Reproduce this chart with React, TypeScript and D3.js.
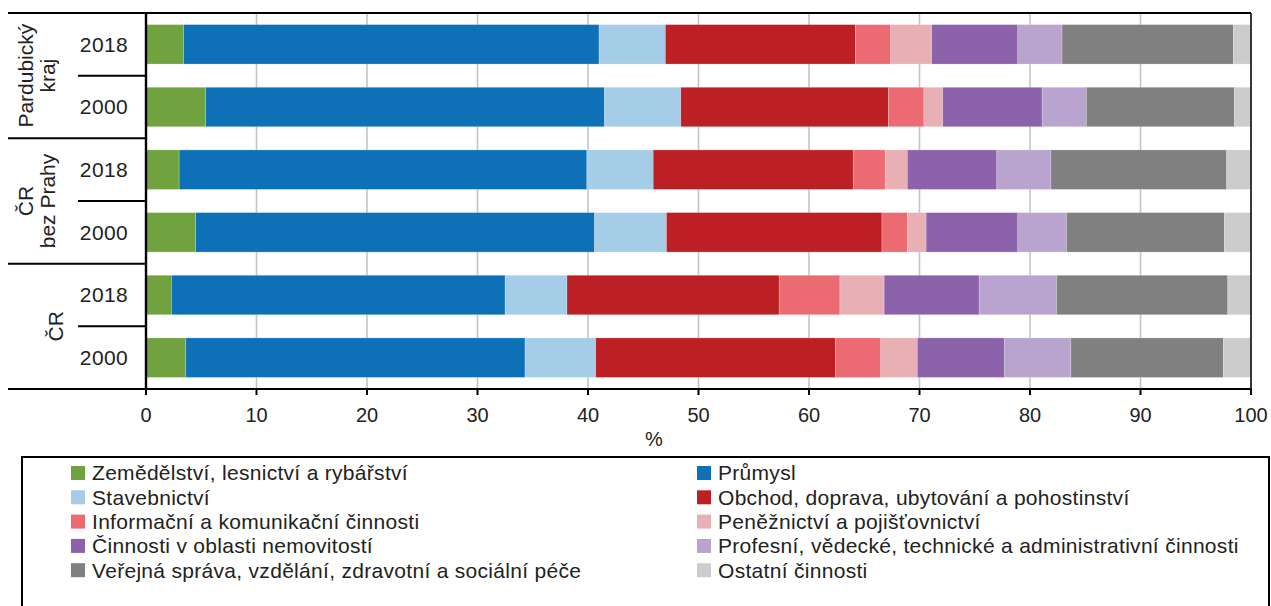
import React from "react";
import * as d3 from "d3";

const rows = ["Pard2018", "Pard2000", "CRbP2018", "CRbP2000", "CR2018", "CR2000"];
const years = ["2018", "2000", "2018", "2000", "2018", "2000"];
const groups = [
  { lines: ["Pardubický", "kraj"], rows: ["Pard2018", "Pard2000"] },
  { lines: ["ČR", "bez Prahy"], rows: ["CRbP2018", "CRbP2000"] },
  { lines: ["ČR"], rows: ["CR2018", "CR2000"] },
];

const agri = [3.4, 5.4, 3.0, 4.5, 2.3, 3.6];
const industry = [37.6, 36.1, 36.9, 36.1, 30.2, 30.7];
const construction = [6.0, 6.9, 6.0, 6.5, 5.6, 6.4];
const trade = [17.2, 18.8, 18.1, 19.5, 19.2, 21.7];
const ict = [3.2, 3.2, 2.9, 2.3, 5.5, 4.1];
const finance = [3.7, 1.7, 2.0, 1.7, 4.0, 3.3];
const realestate = [7.8, 9.0, 8.1, 8.3, 8.6, 7.9];
const professional = [4.0, 4.0, 4.9, 4.4, 7.0, 6.0];
const publicSector = [15.5, 13.4, 15.9, 14.3, 15.5, 13.8];
const other = [1.6, 1.5, 2.2, 2.4, 2.1, 2.5];

const seriesKeys = ["agri", "industry", "construction", "trade", "ict", "finance", "realestate", "professional", "public", "other"];
const seriesValues = [agri, industry, construction, trade, ict, finance, realestate, professional, publicSector, other];
const seriesLabels = [
  "Zemědělství, lesnictví a rybářství",
  "Průmysl",
  "Stavebnictví",
  "Obchod, doprava, ubytování a pohostinství",
  "Informační a komunikační činnosti",
  "Peněžnictví a pojišťovnictví",
  "Činnosti v oblasti nemovitostí",
  "Profesní, vědecké, technické a administrativní činnosti",
  "Veřejná správa, vzdělání, zdravotní a sociální péče",
  "Ostatní činnosti",
];
const seriesColors = ["#70a340", "#0e71b8", "#a6cde8", "#bc2025", "#ec6b72", "#e8b0b4", "#8c62aa", "#b9a4cf", "#808080", "#cccccc"];
const xTicks = [0, 10, 20, 30, 40, 50, 60, 70, 80, 90, 100];

const W = 1271;
const H = 606;
const left = 146;
const right = 1251;
const top = 13;
const bottom = 389;
const font = "'Liberation Sans', Arial, sans-serif";
const textColor = "#222222";

export default function App() {
  const x = d3.scaleLinear().domain([0, 100]).range([left, right]);
  const y = d3.scaleBand<string>().domain(rows).range([top, bottom]).paddingInner(0.37).paddingOuter(0.185);
  const band = d3.scaleBand<string>().domain(rows).range([top, bottom]);

  const table = rows.map((r, i) => {
    const o: any = { row: r };
    seriesKeys.forEach((k, j) => (o[k] = seriesValues[j][i]));
    return o;
  });
  const stacked = d3.stack<any>().keys(seriesKeys)(table);

  return (
    <svg width={W} height={H} style={{ position: "absolute", left: 0, top: 0, background: "#fff" }} fontFamily={font}>
      {/* gridlines */}
      {xTicks.slice(1, -1).map((t) => (
        <line key={t} x1={x(t)} x2={x(t)} y1={top} y2={bottom} stroke="#c4c4c4" strokeWidth={1.6} />
      ))}
      {/* bars */}
      {stacked.map((s, j) => (
        <g key={s.key} fill={seriesColors[j]}>
          {s.map((d, i) => (
            <rect
              key={i}
              x={x(d[0])}
              width={x(d[1]) - x(d[0])}
              y={y(rows[i])}
              height={y.bandwidth()}
              stroke="#ffffff"
              strokeOpacity={0.35}
              strokeWidth={0.6}
            />
          ))}
        </g>
      ))}
      {/* frame lines */}
      <line x1={8} x2={right} y1={top} y2={top} stroke="#000" strokeWidth={2} />
      <line x1={8} x2={right + 1} y1={bottom} y2={bottom} stroke="#000" strokeWidth={2} />
      <line x1={left} x2={left} y1={top} y2={bottom} stroke="#000" strokeWidth={2.4} />
      <line x1={right} x2={right} y1={top} y2={bottom} stroke="#222" strokeWidth={1.8} />
      {/* group separators */}
      {groups.slice(0, -1).map((g, gi) => {
        const yy = (band(g.rows[1]) as number) + band.bandwidth();
        return <line key={gi} x1={8} x2={left} y1={yy} y2={yy} stroke="#000" strokeWidth={2} />;
      })}
      {groups.map((g, gi) => {
        const yy = (band(g.rows[0]) as number) + band.bandwidth();
        return <line key={"y" + gi} x1={78} x2={left} y1={yy} y2={yy} stroke="#000" strokeWidth={2} />;
      })}
      {/* ticks */}
      {xTicks.map((t) => (
        <g key={t}>
          <line x1={x(t)} x2={x(t)} y1={bottom} y2={bottom + 6} stroke="#000" strokeWidth={2} />
          <text x={x(t)} y={422} textAnchor="middle" fontSize={20} fill={textColor}>
            {t}
          </text>
        </g>
      ))}
      <text x={654} y={446} textAnchor="middle" fontSize={20} fill={textColor}>
        %
      </text>
      {/* year labels */}
      {rows.map((r, i) => (
        <text
          key={r}
          x={104}
          y={(y(r) as number) + y.bandwidth() / 2}
          dy="0.35em"
          textAnchor="middle"
          fontSize={21}
          letterSpacing={0.4}
          fill={textColor}
        >
          {years[i]}
        </text>
      ))}
      {/* group labels */}
      {groups.map((g, gi) => {
        const cy = ((band(g.rows[0]) as number) + (band(g.rows[1]) as number) + band.bandwidth()) / 2;
        const n = g.lines.length;
        const cx = n === 1 ? 56 : 37;
        return (
          <text key={gi} transform={`translate(${cx},${cy}) rotate(-90)`} textAnchor="middle" fontSize={21} fill={textColor}>
            {g.lines.map((ln, li) => (
              <tspan key={li} x={0} y={(li - (n - 1) / 2) * 22} dy="0.35em">
                {ln}
              </tspan>
            ))}
          </text>
        );
      })}
      {/* legend */}
      <rect x={22} y={457} width={1247} height={170} fill="none" stroke="#000" strokeWidth={2} />
      {seriesLabels.map((lab, i) => {
        const col = i % 2;
        const row = Math.floor(i / 2);
        const lx = col === 0 ? 71 : 697;
        const ly = 473 + row * 24.3;
        return (
          <g key={lab}>
            <rect x={lx} y={ly - 7} width={14} height={14} fill={seriesColors[i]} />
            <text x={lx + 21} y={ly} dy="0.35em" fontSize={21} letterSpacing={0.3} fill={textColor}>
              {lab}
            </text>
          </g>
        );
      })}
    </svg>
  );
}
